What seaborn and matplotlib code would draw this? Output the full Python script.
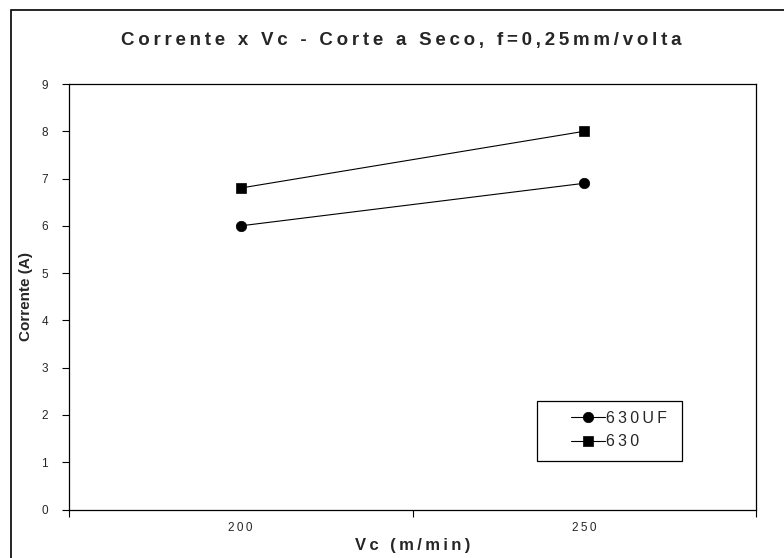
import matplotlib
matplotlib.use("Agg")
import matplotlib.pyplot as plt
from matplotlib.patches import Rectangle
import pandas as pd
import seaborn as sns

# Measured current for each cutting speed
vc_levels = ["200", "250"]
corrente_630uf = [6.0, 6.9]
corrente_630 = [6.8, 8.0]
series_names = ["630UF", "630"]

title_text = "Corrente x Vc - Corte a Seco, f=0,25mm/volta"
xlabel_text = "Vc (m/min)"
ylabel_text = "Corrente (A)"

df = pd.DataFrame({
    "Vc": vc_levels * 2,
    "Corrente": corrente_630uf + corrente_630,
    "Ferramenta": [series_names[0]] * 2 + [series_names[1]] * 2,
})


def spaced(s, gap="\u2009"):
    return gap.join(s)


sns.set_theme(style="white")
plt.rcParams["font.family"] = ["Liberation Sans", "DejaVu Sans"]

W, H = 784, 558
fig = plt.figure(figsize=(W / 100, H / 100), dpi=100)
fig.patch.set_facecolor("white")

# outer chart-area frame
fig.add_artist(Rectangle((11 / W, -0.05), 1.2, 1 - 9.5 / H + 0.05,
                         transform=fig.transFigure, fill=False,
                         edgecolor="black", linewidth=1.2))

ax = fig.add_axes([69 / W, (H - 509.5) / H, (756 - 69) / W, (509.5 - 84) / H])

sns.lineplot(data=df, x="Vc", y="Corrente", hue="Ferramenta", style="Ferramenta",
             palette=["black", "black"], markers=["o", "s"], dashes=False,
             markersize=7.5, linewidth=0.8, markeredgecolor="black",
             sort=False, ax=ax, legend=True)

for line in ax.get_lines():
    line.set_markeredgewidth(0.5)

ax.set_xlim(-0.5, 1.5)
ax.set_ylim(0, 9)
ax.set_yticks(range(0, 10))
ax.set_yticklabels([str(v) for v in range(0, 10)], fontsize=8.5)
ax.set_xticks([-0.5, 0.5, 1.5])
ax.set_xticklabels(["", "", ""])
ax.set_xticks([0, 1], minor=True)
ax.set_xticklabels([spaced(v) for v in vc_levels], minor=True, fontsize=8.5)
ax.tick_params(axis="x", which="minor", length=0, pad=9)
ax.tick_params(axis="x", which="major", length=5, width=0.8, color="black",
               direction="out", bottom=True)
ax.tick_params(axis="y", length=5, width=0.8, color="black", direction="out",
               left=True, pad=10)

for side in ["left", "bottom", "top", "right"]:
    ax.spines[side].set_color("black")
    ax.spines[side].set_linewidth(0.9)

ax.set_xlabel(spaced(xlabel_text), fontsize=12, fontweight="bold", labelpad=3)
ax.set_ylabel(ylabel_text, fontsize=11, fontweight="bold", labelpad=6)

fig.text(0.5 * (118 + 684) / W, 1 - 40 / H, spaced(title_text),
         ha="center", va="center", fontsize=13.5, fontweight="bold")

# legend entries, with a fixed box drawn around them
handles, labels = ax.get_legend_handles_labels()
ax.legend(handles, [spaced(l) for l in labels], loc="center left",
          bbox_to_anchor=(571 / W, 1 - 430 / H), bbox_transform=fig.transFigure,
          frameon=False, fontsize=11.5, handlelength=2.1, handletextpad=0.1,
          borderpad=0, labelspacing=0.55, borderaxespad=0)
ax.get_legend().set_title(None)
fig.add_artist(Rectangle((537 / W, 1 - 461 / H), (682 - 537) / W, (461 - 401) / H,
                         transform=fig.transFigure, fill=False,
                         edgecolor="black", linewidth=0.9))

fig.savefig("out.png", dpi=100, facecolor="white")
